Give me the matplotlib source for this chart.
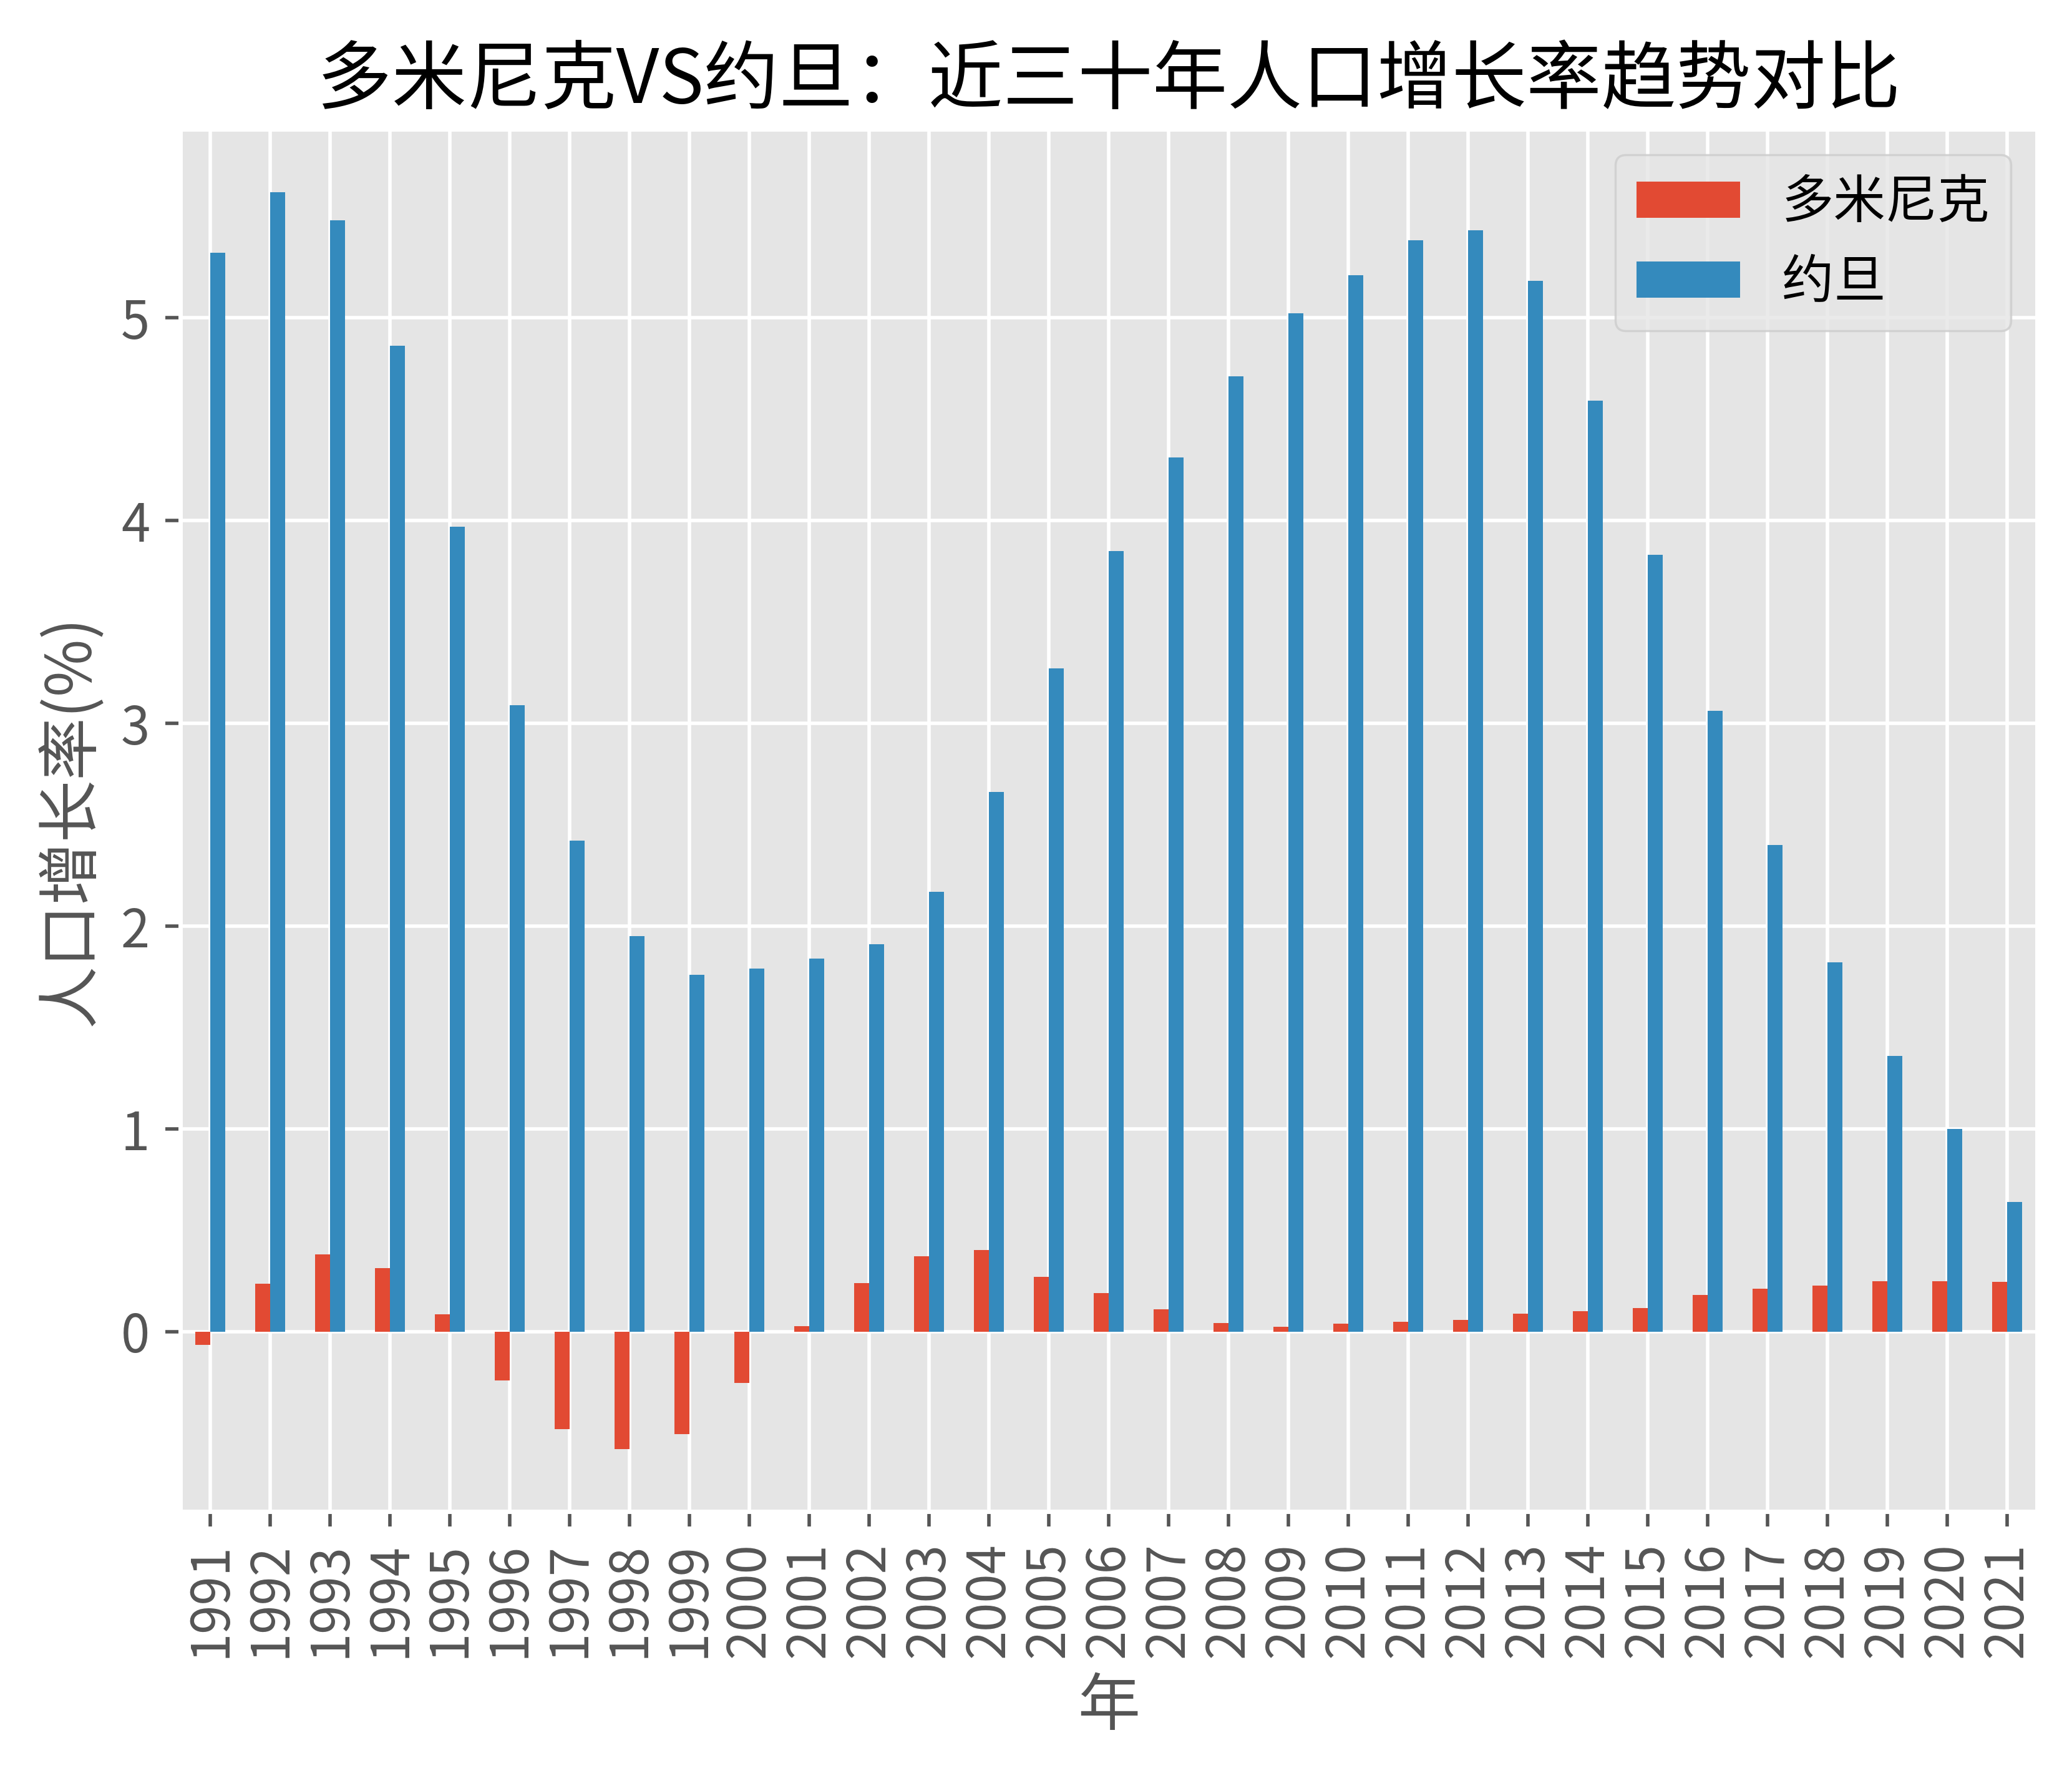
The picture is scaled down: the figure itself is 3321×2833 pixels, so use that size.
import matplotlib
matplotlib.use("Agg")
import matplotlib.pyplot as plt
import pandas as pd

#---------------------------------------------------------------------------------
# Dados (taxa de crescimento populacional, %)

years = list(range(1991, 2022))

dominica = [-0.065, 0.237, 0.380, 0.313, 0.084, -0.242, -0.480, -0.578, -0.505, -0.254,
            0.026, 0.240, 0.371, 0.402, 0.271, 0.191, 0.109, 0.042, 0.023, 0.039,
            0.048, 0.057, 0.087, 0.100, 0.115, 0.182, 0.210, 0.228, 0.249, 0.249,
            0.246]

jordan = [5.32, 5.62, 5.48, 4.86, 3.97, 3.09, 2.42, 1.95, 1.76, 1.79,
          1.84, 1.91, 2.17, 2.66, 3.27, 3.85, 4.31, 4.71, 5.02, 5.21,
          5.38, 5.43, 5.18, 4.59, 3.83, 3.06, 2.40, 1.82, 1.36, 1.00,
          0.64]

df = pd.DataFrame({"多米尼克": dominica, "约旦": jordan}, index=years)

#---------------------------------------------------------------------------------
# Estilo

plt.style.use("ggplot")
plt.rcParams["font.family"] = ["Noto Sans CJK SC", "DejaVu Sans"]
plt.rcParams["font.size"] = 12
plt.rcParams["axes.unicode_minus"] = False

#---------------------------------------------------------------------------------
# Plot

fig, ax = plt.subplots(figsize=(3321 / 500, 2833 / 500), dpi=500)
fig.subplots_adjust(left=0.087, right=0.983, top=0.927, bottom=0.145)

df.plot(kind="bar", ax=ax, rot=90)

ax.set_title("多米尼克VS约旦：近三十年人口增长率趋势对比", color="black")
ax.set_xlabel("年")
ax.set_ylabel("人口增长率(%)")
ax.legend(loc="upper right")

fig.savefig("out.png", dpi=500)
